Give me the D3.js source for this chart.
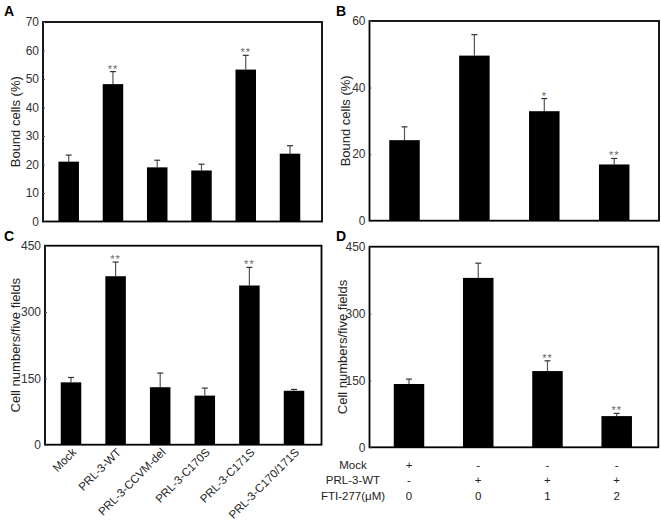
<!DOCTYPE html>
<html><head><meta charset="utf-8">
<script src="https://cdn.jsdelivr.net/npm/d3@7"></script>
<style>body{margin:0;background:#fff}svg{display:block;font-family:"Liberation Sans",Arial,sans-serif}</style>
</head><body><svg id="c" width="661" height="521"></svg>
<script>
// ---- Data ----
const categoriesAC = ["Mock","PRL-3-WT","PRL-3-CCVM-del","PRL-3-C170S","PRL-3-C171S","PRL-3-C170/171S"];
const valuesA = [21, 48.2, 19, 17.9, 53.3, 23.8];
const errorsA = [2.3, 4.4, 2.5, 2.2, 5.0, 2.8];
const starsA  = ["", "**", "", "", "**", ""];
const ticksA  = [0,10,20,30,40,50,60,70];

const categoriesBD = ["1","2","3","4"];
const valuesB = [24.2, 49.6, 32.9, 16.9];
const errorsB = [4.0, 6.3, 3.8, 1.8];
const starsB  = ["", "", "*", "**"];
const ticksB  = [0,20,40,60];

const valuesC = [141, 381, 130, 111, 360, 122];
const errorsC = [11, 32, 32, 17, 41, 3];
const starsC  = ["", "**", "", "", "**", ""];
const ticksC  = [0,150,300,450];

const valuesD = [142, 380, 171, 70];
const errorsD = [11, 33, 23, 6];
const starsD  = ["", "", "**", "**"];
const ticksD  = [0,150,300,450];

const tableRowsD = ["Mock","PRL-3-WT","FTI-277(\u03bcM)"];
const tableMock = ["+","-","-","-"];
const tableWT   = ["-","+","+","+"];
const tableFTI  = ["0","0","1","2"];

const svg = d3.select("#c");

function panel(o){
  const g = svg.append("g");
  const y = d3.scaleLinear().domain([0, o.ymax]).range([o.bottom, o.top]);
  const x = d3.scalePoint().domain(o.cats).range([o.c0, o.c1]);
  g.append("rect").attr("x", o.left).attr("y", o.top)
    .attr("width", o.right - o.left).attr("height", o.bottom - o.top)
    .attr("fill","none").attr("stroke","#000").attr("stroke-width",1.8);
  const ax = g.append("g").attr("transform",`translate(${o.left},0)`)
    .call(d3.axisLeft(y).tickValues(o.ticks).tickSize(-2).tickPadding(4).tickFormat(d3.format("d")));
  ax.select(".domain").remove();
  ax.selectAll("line").attr("stroke","#555");
  ax.selectAll("text").attr("font-size",12).attr("fill","#333").attr("font-family","Liberation Sans, Arial, sans-serif");
  g.append("text").attr("transform",`translate(${o.titleX},${(o.top+o.bottom)/2}) rotate(-90)`)
    .attr("text-anchor","middle").attr("font-size",13).attr("fill","#222").text(o.title);
  g.append("text").attr("x",o.letterX).attr("y",o.letterY).attr("font-size",14).attr("font-weight","bold").text(o.letter);
  const data = o.cats.map((c,i)=>({c, v:o.vals[i], e:o.errs[i], s:o.stars[i]}));
  const eb = g.selectAll(".eb").data(data).join("g");
  eb.append("line").attr("x1",d=>x(d.c)).attr("x2",d=>x(d.c))
    .attr("y1",d=>y(d.v)).attr("y2",d=>y(d.v+d.e)).attr("stroke","#555").attr("stroke-width",1.2);
  eb.append("line").attr("x1",d=>x(d.c)-3).attr("x2",d=>x(d.c)+3)
    .attr("y1",d=>y(d.v+d.e)).attr("y2",d=>y(d.v+d.e)).attr("stroke","#333").attr("stroke-width",1.2);
  g.selectAll(".bar").data(data).join("rect")
    .attr("x",d=>x(d.c)-o.bw/2).attr("width",o.bw)
    .attr("y",d=>y(d.v)).attr("height",d=>o.bottom-y(d.v)).attr("fill","#000");
  g.selectAll(".st").data(data.filter(d=>d.s)).join("text")
    .attr("x",d=>x(d.c)).attr("y",d=>y(d.v+d.e)+1).attr("text-anchor","middle")
    .attr("font-size",11).attr("fill","#666").attr("letter-spacing",1).text(d=>d.s);
  return {x,y,g};
}

panel({cats:categoriesAC, vals:valuesA, errs:errorsA, stars:starsA, ticks:ticksA, ymax:70,
  left:43, right:322, top:22, bottom:221.5, c0:68.7, c1:290, bw:20.5,
  title:"Bound cells (%)", titleX:20, letter:"A", letterX:4, letterY:16});
panel({cats:categoriesBD, vals:valuesB, errs:errorsB, stars:starsB, ticks:ticksB, ymax:60,
  left:369.5, right:659, top:21, bottom:220.7, c0:404.5, c1:614.2, bw:30.5,
  title:"Bound cells (%)", titleX:350, letter:"B", letterX:336, letterY:16});
const pc = panel({cats:categoriesAC, vals:valuesC, errs:errorsC, stars:starsC, ticks:ticksC, ymax:450,
  left:45, right:321.5, top:245.7, bottom:444.7, c0:71, c1:294, bw:20.5,
  title:"Cell numbers/five fields", titleX:20, letter:"C", letterX:4, letterY:241});
const pd = panel({cats:categoriesBD, vals:valuesD, errs:errorsD, stars:starsD, ticks:ticksD, ymax:450,
  left:369.5, right:658.3, top:246.7, bottom:447.3, c0:409, c1:616.7, bw:30.5,
  title:"Cell numbers/five fields", titleX:347, letter:"D", letterX:336, letterY:241});

pc.g.selectAll(".cl").data(categoriesAC).join("text")
  .attr("transform",d=>`translate(${pc.x(d)+6},${453}) rotate(-45)`)
  .attr("text-anchor","end").attr("font-size",11.5).attr("fill","#222").text(d=>d);

const rowY = [469, 484, 500];
const rows = [tableMock, tableWT, tableFTI];
tableRowsD.forEach((r,i)=>{
  pd.g.append("text").attr("x",353).attr("y",rowY[i]).attr("text-anchor","middle")
    .attr("font-size",11.5).attr("fill","#222").text(r);
  pd.g.selectAll(".r"+i).data(rows[i]).join("text")
    .attr("x",(d,j)=>pd.x(categoriesBD[j])).attr("y",rowY[i]).attr("text-anchor","middle")
    .attr("font-size",11.5).attr("fill","#222").text(d=>d);
});
</script></body></html>
